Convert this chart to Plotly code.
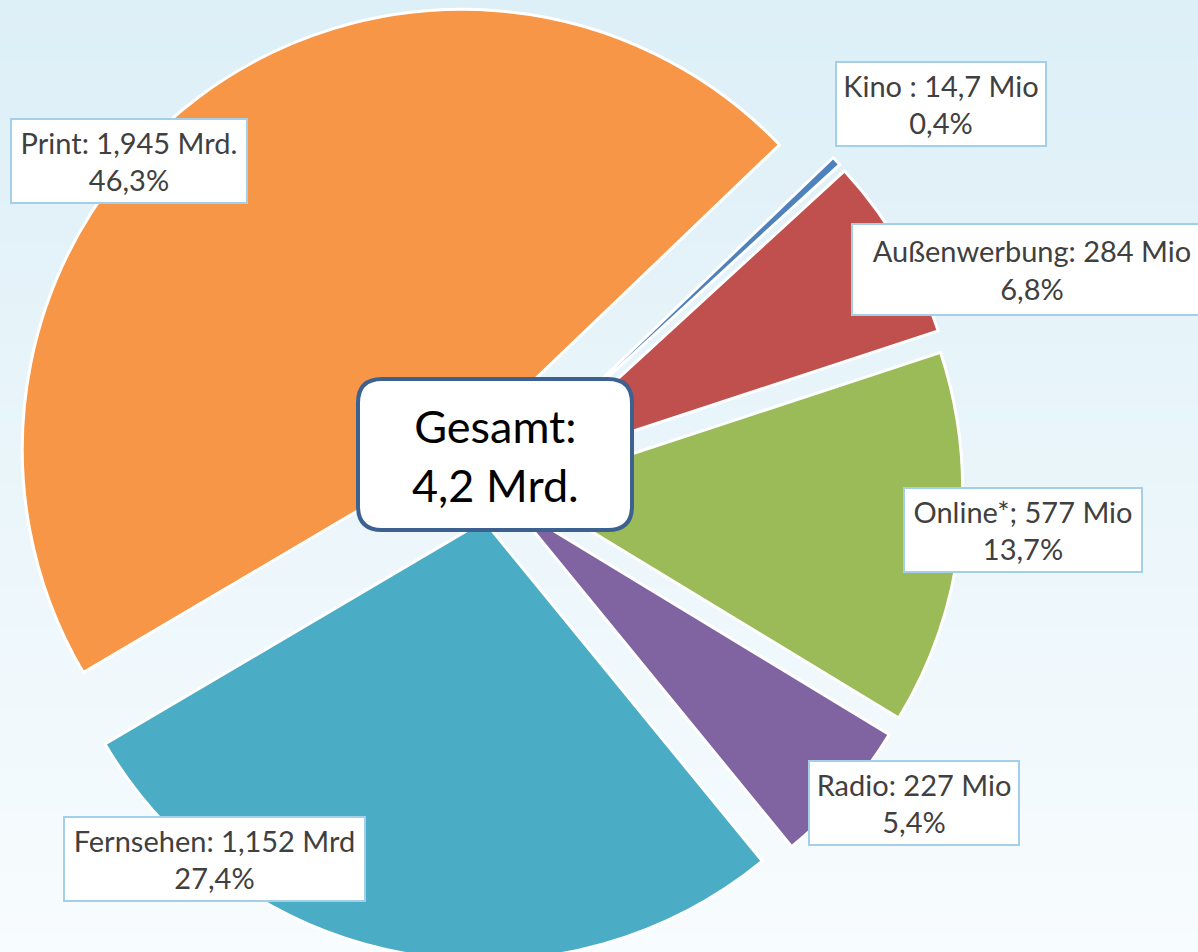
import plotly.graph_objects as go

# ---------------- data ----------------
categories = ["Kino", "Außenwerbung", "Online*", "Radio", "Fernsehen", "Print"]
values_mio = [14.7, 284, 577, 227, 1152, 1945]
value_labels = ["Kino : 14,7 Mio", "Außenwerbung: 284 Mio", "Online*; 577 Mio",
                "Radio: 227 Mio", "Fernsehen: 1,152 Mrd", "Print: 1,945 Mrd."]
percent_labels = ["0,4%", "6,8%", "13,7%", "5,4%", "27,4%", "46,3%"]
total_label = "Gesamt:<br>4,2 Mrd."

# ---------------- styles ----------------
colors = ["#4F81BD", "#C0504D", "#9BBB59", "#8064A2", "#4BACC6", "#F79646"]
pulls = [0.08, 0.08, 0.075, 0.07, 0.08, 0.105]

W, H = 1198, 972   # figure a bit taller than the window: the pie runs off the bottom
FONT = "Lato"


def px(x):
    return x / W


def py(y):
    return 1 - y / H


fig = go.Figure()
fig.add_trace(go.Pie(
    labels=categories,
    values=values_mio,
    sort=False,
    direction="clockwise",
    rotation=46.2,
    pull=pulls,
    marker=dict(colors=colors, line=dict(color="white", width=3)),
    textinfo="none",
    hoverinfo="label+value+percent",
    showlegend=False,
    domain=dict(x=[0, 980 / W], y=[0, 1]),
))

# background gradient (light blue at top -> almost white at bottom)
shapes = []
n = 48
top = (221, 239, 247)
bot = (248, 252, 254)
for i in range(n):
    t = i / (n - 1)
    c = tuple(round(top[k] + (bot[k] - top[k]) * t) for k in range(3))
    shapes.append(dict(type="rect", xref="paper", yref="paper",
                       x0=0, x1=1, y0=1 - (i + 1) / n - 0.002, y1=1 - i / n,
                       fillcolor="rgb(%d,%d,%d)" % c, line=dict(width=0),
                       layer="below"))

# rounded box for the total
bx0, by0, bx1, by1, rr = 358, 379, 632, 530, 24
path = (f"M {px(bx0 + rr)},{py(by0)} L {px(bx1 - rr)},{py(by0)} "
        f"Q {px(bx1)},{py(by0)} {px(bx1)},{py(by0 + rr)} "
        f"L {px(bx1)},{py(by1 - rr)} "
        f"Q {px(bx1)},{py(by1)} {px(bx1 - rr)},{py(by1)} "
        f"L {px(bx0 + rr)},{py(by1)} "
        f"Q {px(bx0)},{py(by1)} {px(bx0)},{py(by1 - rr)} "
        f"L {px(bx0)},{py(by0 + rr)} "
        f"Q {px(bx0)},{py(by0)} {px(bx0 + rr)},{py(by0)} Z")
shapes.append(dict(type="path", xref="paper", yref="paper", path=path,
                   fillcolor="white", line=dict(color="#3C6191", width=4),
                   layer="above"))

# label boxes: centre x, centre y, width, height (pixels)
label_boxes = [
    (941, 104, 212, 86),
    (1032, 269, 362, 93),
    (1023, 530, 240, 86),
    (914, 803, 212, 86),
    (214, 859, 303, 86),
    (129, 161, 238, 86),
]

annotations = []
for name_txt, pct, (cx, cy, bw, bh) in zip(value_labels, percent_labels, label_boxes):
    annotations.append(dict(
        x=px(cx), y=py(cy), xref="paper", yref="paper",
        xanchor="center", yanchor="middle",
        text=f"{name_txt}<br>{pct}", showarrow=False, align="center",
        width=bw - 4, height=bh - 4,
        bgcolor="white", bordercolor="#A3CFEA", borderwidth=2, borderpad=0,
        font=dict(family=FONT, size=29, color="#404040"),
    ))

annotations.append(dict(
    x=px(495), y=py(455), xref="paper", yref="paper",
    xanchor="center", yanchor="middle", text=total_label, showarrow=False,
    align="center", font=dict(family=FONT, size=45, color="black"),
))

fig.update_layout(
    width=W, height=H,
    margin=dict(l=0, r=0, t=0, b=0),
    paper_bgcolor="#EAF5FA",
    plot_bgcolor="rgba(0,0,0,0)",
    shapes=shapes,
    annotations=annotations,
)

fig.write_html(
    "out.html",
    config={"displayModeBar": False},
    post_script="document.body.style.margin='0';document.body.style.overflow='hidden';",
)
